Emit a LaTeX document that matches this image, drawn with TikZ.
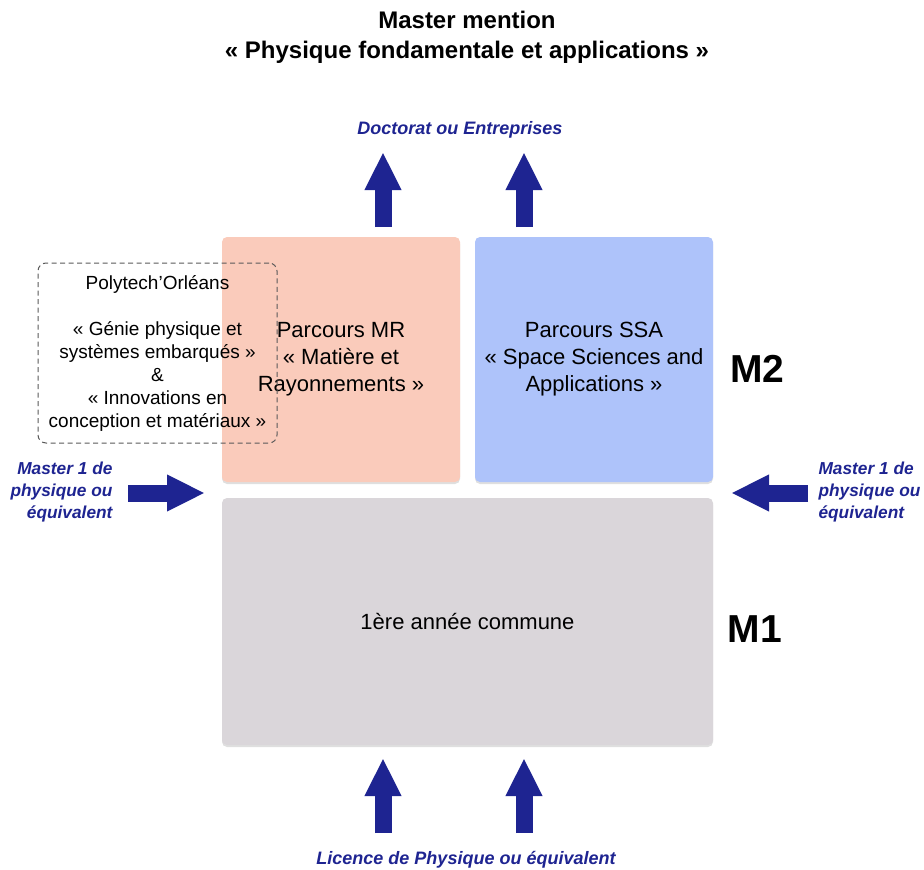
\documentclass[tikz,border=0pt]{standalone}
\usepackage{fontspec}
\setmainfont{Liberation Sans}
\usetikzlibrary{arrows.meta,shadows}
\definecolor{navy}{RGB}{30,36,145}
\definecolor{mrcol}{RGB}{250,203,187}
\definecolor{ssacol}{RGB}{174,195,250}
\definecolor{mcol}{RGB}{218,214,218}
\begin{document}
\begin{tikzpicture}
    [x=1pt,y=-1pt,
     box/.style={rounded corners=5pt,inner sep=0pt,align=center,
       font=\fontsize{22}{27}\selectfont,
       drop shadow={opacity=0.25,shadow xshift=0pt,shadow yshift=-2pt}},
     big/.style={line width=17pt,draw=navy,-{Triangle[width=34pt,length=38pt]}},
     side/.style={text=navy,font=\fontsize{18}{22}\selectfont\bfseries\itshape},
     entry/.style={side,font=\fontsize{17.3}{22}\selectfont\bfseries\itshape},
     level/.style={font=\fontsize{39}{39}\selectfont\bfseries}]
    \useasboundingbox (0,0) rectangle (924,870);
    \node [font=\fontsize{24}{30}\selectfont\bfseries,align=center] (T) at (467,37)
      {Master mention\\« Physique fondamentale et applications »};
    \node [box,fill=mrcol,minimum width=238pt,minimum height=245pt] (MR) at (341,359.5)
      {Parcours MR\\« Matière et\\Rayonnements »};
    \node [box,fill=ssacol,minimum width=238pt,minimum height=245pt] (SSA) at (594,359.5)
      {Parcours SSA\\« Space Sciences and\\Applications »};
    \node [box,fill=mcol,minimum width=491pt,minimum height=247pt] (M1) at (467.5,621.5)
      {1ère année commune};
    \node [draw=black!65,line width=1pt,dash pattern=on 5pt off 3.5pt,rounded corners=8pt,
      inner sep=0pt,align=center,minimum width=239pt,minimum height=180pt,
      font=\fontsize{19}{23}\selectfont] (P) at (157.5,353)
      {Polytech'Orléans\\[23pt]« Génie physique et\\systèmes embarqués »\\\&\\« Innovations en\\conception et matériaux »};
    \node [level] (L2) at (757.5,369) {M2};
    \node [level] (L1) at (755,629) {M1};
    % sorties
    \node [side] (D) at (460,130) {Doctorat ou Entreprises};
    \coordinate (a1) at (383,227); \coordinate (b1) at (383,152);
    \coordinate (a2) at (524,227); \coordinate (b2) at (524,152);
    \draw [big] (a1) -- (b1);
    \draw [big] (a2) -- (b2);
    % entrees
    \node [side] (Lic) at (466,860) {Licence de Physique ou équivalent};
    \coordinate (c1) at (383,833); \coordinate (d1) at (383,758);
    \coordinate (c2) at (524,833); \coordinate (d2) at (524,758);
    \draw [big] (c1) -- (d1);
    \draw [big] (c2) -- (d2);
    \node [entry,anchor=east,align=right] (ML) at (116,492) {Master 1 de\\physique ou\\équivalent};
    \node [entry,anchor=west,align=left] (MRt) at (815,492) {Master 1 de\\physique ou\\équivalent};
    \coordinate (e1) at (128,493); \coordinate (f1) at (205,493);
    \coordinate (e2) at (808,493); \coordinate (f2) at (731,493);
    \draw [big] (e1) -- (f1);
    \draw [big] (e2) -- (f2);
  \end{tikzpicture}
\end{document}
